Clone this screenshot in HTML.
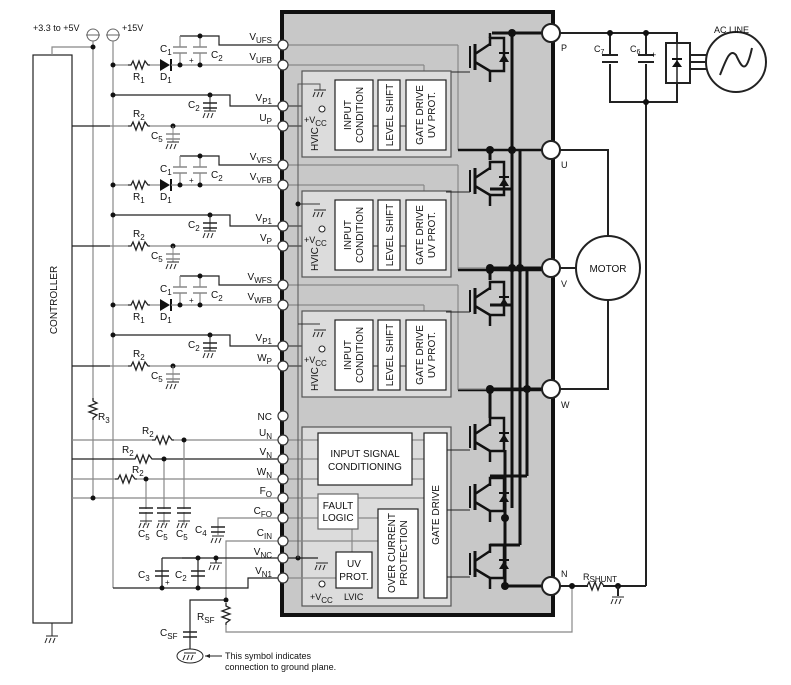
<!DOCTYPE html>
<html><head><meta charset="utf-8"><style>
html,body{margin:0;padding:0;background:#fff}
svg{display:block}
text{font-family:"Liberation Sans",Arial,sans-serif;fill:#111}
</style></head><body>
<svg width="791" height="685" viewBox="0 0 791 685" xmlns="http://www.w3.org/2000/svg">
<defs>
<g id="gnd" stroke="#222" stroke-width="1" fill="none">
<line x1="-6" y1="0" x2="6" y2="0"/><line x1="-5" y1="2" x2="-7" y2="7"/><line x1="-1" y1="2" x2="-3" y2="7"/><line x1="3" y1="2" x2="1" y2="7"/>
</g>
<g id="res" fill="none" stroke="#222" stroke-width="1.3">
<polyline points="0,0 3,0 5,-4 8,4 11,-4 14,4 17,-4 20,0 22,0"/>
</g>
<g id="igbt" stroke="#111" fill="none">
<line x1="-20" y1="8" x2="-20" y2="30" stroke-width="2"/>
<line x1="-15" y1="6" x2="-15" y2="32" stroke-width="3"/>
<line x1="-15" y1="16" x2="0" y2="6" stroke-width="2.5"/>
<line x1="-15" y1="24" x2="0" y2="33" stroke-width="2.5"/>
<polyline points="0,8 0,0 14,0 14,33 0,33 0,44" stroke-width="2.5"/>
<polygon points="9,24 19,24 14,16" fill="#111" stroke="none"/>
<line x1="9" y1="15" x2="19" y2="15" stroke-width="2"/>
</g>
<g id="hvic">
<rect x="0" y="0" width="149" height="86" fill="#dcdcdc" stroke="#555" stroke-width="1.2"/>
<rect x="33" y="9" width="38" height="70" fill="#fff" stroke="#222" stroke-width="1.2"/>
<rect x="76" y="9" width="22" height="70" fill="#fff" stroke="#222" stroke-width="1.2"/>
<rect x="104" y="9" width="40" height="70" fill="#fff" stroke="#222" stroke-width="1.2"/>
<line x1="71" y1="55" x2="76" y2="55" stroke="#333"/><line x1="98" y1="55" x2="104" y2="55" stroke="#333"/>
<text transform="translate(49,44) rotate(-90)" font-size="10" text-anchor="middle">INPUT</text>
<text transform="translate(61,44) rotate(-90)" font-size="10" text-anchor="middle">CONDITION</text>
<text transform="translate(91,44) rotate(-90)" font-size="10" text-anchor="middle">LEVEL SHIFT</text>
<text transform="translate(121,44) rotate(-90)" font-size="10" text-anchor="middle">GATE DRIVE</text>
<text transform="translate(133,44) rotate(-90)" font-size="10" text-anchor="middle">UV PROT.</text>
<text transform="translate(16,80) rotate(-90)" font-size="10">HVIC</text>
<text x="2" y="52" font-size="9">+V<tspan font-size="8" dy="3">CC</tspan></text>
<circle cx="20" cy="38" r="3" fill="#fff" stroke="#222"/>
</g>
<g id="phase">
<polyline points="180,36 180,36 219,36 219,45 283,45" fill="none" stroke="#222" stroke-width="1.2"/>
<line x1="180" y1="36" x2="180" y2="65" stroke="#888" stroke-width="1.2"/>
<line x1="200" y1="36" x2="200" y2="65" stroke="#888" stroke-width="1.2"/>
<rect x="174" y="47" width="13" height="6" fill="#fff"/><rect x="194" y="47" width="13" height="6" fill="#fff"/>
<line x1="173" y1="47" x2="187" y2="47" stroke="#888" stroke-width="1.5"/><line x1="173" y1="53" x2="187" y2="53" stroke="#888" stroke-width="1.5"/>
<line x1="193" y1="47" x2="207" y2="47" stroke="#888" stroke-width="1.5"/><line x1="193" y1="53" x2="207" y2="53" stroke="#888" stroke-width="1.5"/>
<circle cx="200" cy="36" r="2.5" fill="#111"/>
<line x1="113" y1="65" x2="128" y2="65" stroke="#888" stroke-width="1.2"/>
<use href="#res" x="128" y="65"/>
<line x1="150" y1="65" x2="160" y2="65" stroke="#888" stroke-width="1.2"/>
<polygon points="160,59 160,71 170,65" fill="#111"/><line x1="171" y1="59" x2="171" y2="71" stroke="#111" stroke-width="2"/>
<line x1="171" y1="65" x2="283" y2="65" stroke="#888" stroke-width="1.2"/>
<circle cx="180" cy="65" r="2.5" fill="#111"/><circle cx="200" cy="65" r="2.5" fill="#111"/><circle cx="113" cy="65" r="2.5" fill="#111"/>
<text x="189" y="63" font-size="8">+</text>
<text x="160" y="52" font-size="10">C<tspan font-size="8" dy="3">1</tspan></text>
<text x="211" y="58" font-size="10">C<tspan font-size="8" dy="3">2</tspan></text>
<text x="133" y="80" font-size="10">R<tspan font-size="8" dy="3">1</tspan></text>
<text x="160" y="80" font-size="10">D<tspan font-size="8" dy="3">1</tspan></text>
<polyline points="113,95 230,95 230,106 283,106" fill="none" stroke="#222" stroke-width="1.2"/>
<circle cx="113" cy="95" r="2.5" fill="#111"/><circle cx="210" cy="95" r="2.5" fill="#111"/>
<line x1="210" y1="95" x2="210" y2="111" stroke="#222"/>
<line x1="203" y1="103" x2="217" y2="103" stroke="#222" stroke-width="1.5"/><line x1="203" y1="108" x2="217" y2="108" stroke="#222" stroke-width="1.5"/>
<use href="#gnd" x="210" y="111"/>
<text x="188" y="108" font-size="10">C<tspan font-size="8" dy="3">2</tspan></text>
<line x1="72" y1="126" x2="110" y2="126" stroke="#222" stroke-width="1.2"/>
<line x1="110" y1="126" x2="128" y2="126" stroke="#888" stroke-width="1.2"/>
<use href="#res" x="128" y="126"/>
<line x1="150" y1="126" x2="283" y2="126" stroke="#888" stroke-width="1.2"/>
<circle cx="173" cy="126" r="2.5" fill="#111"/>
<line x1="173" y1="126" x2="173" y2="142" stroke="#888"/>
<line x1="166" y1="134" x2="180" y2="134" stroke="#888" stroke-width="1.5"/><line x1="166" y1="139" x2="180" y2="139" stroke="#888" stroke-width="1.5"/>
<use href="#gnd" x="173" y="142"/>
<text x="133" y="117" font-size="10">R<tspan font-size="8" dy="3">2</tspan></text>
<text x="151" y="139" font-size="10">C<tspan font-size="8" dy="3">5</tspan></text>
<line x1="288" y1="45" x2="458" y2="45" stroke="#888" stroke-width="1.2"/>
<line x1="458" y1="45" x2="458" y2="150" stroke="#888" stroke-width="1.2"/>
<line x1="288" y1="65" x2="424" y2="65" stroke="#888" stroke-width="1.2"/>
<line x1="424" y1="65" x2="424" y2="80" stroke="#888" stroke-width="1.2"/>
<polyline points="288,106 320,106 320,111" fill="none" stroke="#222"/>
<line x1="288" y1="126" x2="335" y2="126" stroke="#222"/>
<line x1="446" y1="72" x2="470" y2="72" stroke="#222"/>
<line x1="458" y1="150" x2="545" y2="150" stroke="#111" stroke-width="2.5"/>
<circle cx="490" cy="150" r="4" fill="#111"/>
</g>
</defs>

<rect x="282" y="12" width="271" height="603" fill="#c8c8c8" stroke="#111" stroke-width="4"/>

<rect x="33" y="55" width="39" height="568" fill="#fff" stroke="#222" stroke-width="1.2"/>
<text transform="translate(57,300) rotate(-90)" font-size="10" text-anchor="middle">CONTROLLER</text>
<line x1="52" y1="623" x2="52" y2="636" stroke="#222"/><use href="#gnd" x="52" y="636"/>
<polyline points="52,55 52,47 93,47" fill="none" stroke="#888" stroke-width="1.2"/>

<text x="33" y="31" font-size="9">+3.3 to +5V</text>
<text x="122" y="31" font-size="9">+15V</text>
<circle cx="93" cy="35" r="6" fill="#fff" stroke="#666"/><line x1="86" y1="35" x2="100" y2="35" stroke="#666"/>
<circle cx="113" cy="35" r="6" fill="#fff" stroke="#666"/><line x1="106" y1="35" x2="120" y2="35" stroke="#666"/>
<line x1="93" y1="41" x2="93" y2="400" stroke="#888" stroke-width="1.2"/>
<line x1="93" y1="420" x2="93" y2="498" stroke="#888" stroke-width="1.2"/>
<circle cx="93" cy="47" r="2.5" fill="#111"/>
<g transform="translate(93,398) rotate(90)"><use href="#res"/></g>
<text x="98" y="420" font-size="10">R<tspan font-size="8" dy="3">3</tspan></text>
<line x1="113" y1="41" x2="113" y2="588" stroke="#888" stroke-width="1.2"/>

<use href="#phase"/>
<use href="#phase" y="120"/>
<use href="#phase" y="240"/>

<use href="#hvic" x="302" y="71"/>
<use href="#hvic" x="302" y="191"/>
<use href="#hvic" x="302" y="311"/>
<g stroke="#555" fill="none">
<polyline points="298,424 298,84 320,84 320,90"/>
</g>
<use href="#gnd" x="320" y="90"/><use href="#gnd" x="320" y="210"/><use href="#gnd" x="320" y="330"/>
<line x1="298" y1="204" x2="320" y2="204" stroke="#333"/><circle cx="298" cy="204" r="2.5" fill="#111"/>
<line x1="298" y1="324" x2="320" y2="324" stroke="#333"/>

<g font-size="10" text-anchor="end">
<text x="272" y="40">V<tspan font-size="8" dy="3">UFS</tspan></text>
<text x="272" y="60">V<tspan font-size="8" dy="3">UFB</tspan></text>
<text x="272" y="101">V<tspan font-size="8" dy="3">P1</tspan></text>
<text x="272" y="121">U<tspan font-size="8" dy="3">P</tspan></text>
<text x="272" y="160">V<tspan font-size="8" dy="3">VFS</tspan></text>
<text x="272" y="180">V<tspan font-size="8" dy="3">VFB</tspan></text>
<text x="272" y="221">V<tspan font-size="8" dy="3">P1</tspan></text>
<text x="272" y="241">V<tspan font-size="8" dy="3">P</tspan></text>
<text x="272" y="280">V<tspan font-size="8" dy="3">WFS</tspan></text>
<text x="272" y="300">V<tspan font-size="8" dy="3">WFB</tspan></text>
<text x="272" y="341">V<tspan font-size="8" dy="3">P1</tspan></text>
<text x="272" y="361">W<tspan font-size="8" dy="3">P</tspan></text>
<text x="272" y="420">NC</text>
<text x="272" y="436">U<tspan font-size="8" dy="3">N</tspan></text>
<text x="272" y="455">V<tspan font-size="8" dy="3">N</tspan></text>
<text x="272" y="475">W<tspan font-size="8" dy="3">N</tspan></text>
<text x="272" y="494">F<tspan font-size="8" dy="3">O</tspan></text>
<text x="272" y="514">C<tspan font-size="8" dy="3">FO</tspan></text>
<text x="272" y="536">C<tspan font-size="8" dy="3">IN</tspan></text>
<text x="272" y="555">V<tspan font-size="8" dy="3">NC</tspan></text>
<text x="272" y="574">V<tspan font-size="8" dy="3">N1</tspan></text>
</g>

<g stroke-width="1.2" fill="none">
<line x1="72" y1="440" x2="152" y2="440" stroke="#888"/>
<line x1="174" y1="440" x2="283" y2="440" stroke="#888"/>
<line x1="72" y1="459" x2="132" y2="459" stroke="#222"/>
<line x1="154" y1="459" x2="283" y2="459" stroke="#222"/>
<line x1="72" y1="479" x2="115" y2="479" stroke="#888"/>
<line x1="137" y1="479" x2="283" y2="479" stroke="#888"/>
<line x1="72" y1="498" x2="283" y2="498" stroke="#888"/>
<line x1="184" y1="440" x2="184" y2="525" stroke="#888"/>
<line x1="164" y1="459" x2="164" y2="525" stroke="#888"/>
<line x1="146" y1="479" x2="146" y2="525" stroke="#888"/>
<polyline points="283,518 218,518 218,535" stroke="#888"/>
<polyline points="283,541 226,541 226,600" stroke="#888"/>
<line x1="182" y1="558" x2="283" y2="558" stroke="#222"/>
<polyline points="283,578 248,578 248,588 113,588" stroke="#222"/>
<polyline points="162,558 198,558" stroke="#222"/>
<line x1="162" y1="558" x2="162" y2="588" stroke="#222"/>
<line x1="198" y1="558" x2="198" y2="588" stroke="#222"/>
<line x1="216" y1="558" x2="216" y2="563" stroke="#222"/>
<polyline points="226,600 190,600 190,650" stroke="#222"/>
<polyline points="226,625 226,632 572,632 572,586" stroke="#888"/>
</g>
<use href="#res" x="152" y="440"/><use href="#res" x="132" y="459"/><use href="#res" x="115" y="479"/>
<circle cx="184" cy="440" r="2.5" fill="#111"/><circle cx="164" cy="459" r="2.5" fill="#111"/><circle cx="146" cy="479" r="2.5" fill="#111"/><circle cx="93" cy="498" r="2.5" fill="#111"/>
<g stroke="#222" stroke-width="1.5">
<line x1="139" y1="508" x2="153" y2="508"/><line x1="139" y1="513" x2="153" y2="513"/>
<line x1="157" y1="508" x2="171" y2="508"/><line x1="157" y1="513" x2="171" y2="513"/>
<line x1="177" y1="508" x2="191" y2="508"/><line x1="177" y1="513" x2="191" y2="513"/>
<line x1="211" y1="527" x2="225" y2="527"/><line x1="211" y1="532" x2="225" y2="532"/>
<line x1="155" y1="571" x2="169" y2="571"/><line x1="155" y1="576" x2="169" y2="576"/>
<line x1="191" y1="571" x2="205" y2="571"/><line x1="191" y1="576" x2="205" y2="576"/>
<line x1="183" y1="632" x2="197" y2="632"/><line x1="183" y1="637" x2="197" y2="637"/>
</g>
<rect x="139" y="509" width="52" height="3" fill="#fff"/>
<use href="#gnd" x="146" y="521"/><use href="#gnd" x="164" y="521"/><use href="#gnd" x="184" y="521"/><use href="#gnd" x="218" y="536"/><use href="#gnd" x="216" y="563"/>
<circle cx="198" cy="558" r="2.5" fill="#111"/><circle cx="216" cy="558" r="2.5" fill="#111"/><circle cx="162" cy="588" r="2.5" fill="#111"/><circle cx="198" cy="588" r="2.5" fill="#111"/><circle cx="226" cy="600" r="2.5" fill="#111"/>
<g transform="translate(226,603) rotate(90)"><use href="#res"/></g>
<text x="142" y="434" font-size="10">R<tspan font-size="8" dy="3">2</tspan></text>
<text x="122" y="453" font-size="10">R<tspan font-size="8" dy="3">2</tspan></text>
<text x="132" y="473" font-size="10">R<tspan font-size="8" dy="3">2</tspan></text>
<text x="138" y="537" font-size="10">C<tspan font-size="8" dy="3">5</tspan></text>
<text x="156" y="537" font-size="10">C<tspan font-size="8" dy="3">5</tspan></text>
<text x="176" y="537" font-size="10">C<tspan font-size="8" dy="3">5</tspan></text>
<text x="195" y="533" font-size="10">C<tspan font-size="8" dy="3">4</tspan></text>
<text x="138" y="578" font-size="10">C<tspan font-size="8" dy="3">3</tspan></text>
<text x="175" y="578" font-size="10">C<tspan font-size="8" dy="3">2</tspan></text>
<text x="165" y="585" font-size="8">+</text>
<text x="197" y="620" font-size="10">R<tspan font-size="8" dy="3">SF</tspan></text>
<text x="160" y="636" font-size="10">C<tspan font-size="8" dy="3">SF</tspan></text>
<ellipse cx="190" cy="656" rx="13" ry="7" fill="#fff" stroke="#222"/>
<use href="#gnd" x="190" y="653"/>
<line x1="205" y1="656" x2="222" y2="656" stroke="#222"/><polygon points="205,656 210,654 210,658" fill="#222"/>
<text x="225" y="659" font-size="9">This symbol indicates</text>
<text x="225" y="670" font-size="9">connection to ground plane.</text>

<rect x="302" y="427" width="149" height="179" fill="#dcdcdc" stroke="#555" stroke-width="1.2"/>
<g stroke="#888" stroke-width="1.2">
<line x1="288" y1="440" x2="318" y2="440"/><line x1="288" y1="459" x2="318" y2="459"/><line x1="288" y1="479" x2="318" y2="479"/>
<line x1="288" y1="498" x2="424" y2="498"/><line x1="288" y1="518" x2="378" y2="518"/><line x1="288" y1="541" x2="378" y2="541"/>
<line x1="412" y1="440" x2="424" y2="440"/><line x1="412" y1="459" x2="424" y2="459"/><line x1="412" y1="479" x2="424" y2="479"/>
<line x1="352" y1="529" x2="352" y2="552"/>
<line x1="288" y1="578" x2="336" y2="578"/>
</g>
<line x1="288" y1="558" x2="318" y2="558" stroke="#222" stroke-width="1.2"/><circle cx="298" cy="558" r="2.5" fill="#111"/>
<line x1="298" y1="424" x2="298" y2="558" stroke="#555"/>
<use href="#gnd" x="322" y="563"/>
<circle cx="322" cy="584" r="3" fill="#fff" stroke="#222"/>
<text x="310" y="600" font-size="9">+V<tspan font-size="8" dy="3">CC</tspan></text>
<text x="344" y="600" font-size="9">LVIC</text>
<rect x="318" y="433" width="94" height="52" fill="#fff" stroke="#222" stroke-width="1.2"/>
<text x="365" y="457" font-size="10" text-anchor="middle">INPUT SIGNAL</text>
<text x="365" y="470" font-size="10" text-anchor="middle">CONDITIONING</text>
<rect x="424" y="433" width="23" height="165" fill="#fff" stroke="#222" stroke-width="1.2"/>
<text transform="translate(439,515) rotate(-90)" font-size="10" text-anchor="middle">GATE DRIVE</text>
<rect x="318" y="494" width="40" height="35" fill="#fff" stroke="#666" stroke-width="1.2"/>
<text x="338" y="509" font-size="10" text-anchor="middle">FAULT</text>
<text x="338" y="521" font-size="10" text-anchor="middle">LOGIC</text>
<line x1="358" y1="518" x2="378" y2="518" stroke="#888"/>
<rect x="378" y="509" width="40" height="89" fill="#fff" stroke="#222" stroke-width="1.2"/>
<text transform="translate(395,553) rotate(-90)" font-size="10" text-anchor="middle">OVER CURRENT</text>
<text transform="translate(407,553) rotate(-90)" font-size="10" text-anchor="middle">PROTECTION</text>
<rect x="336" y="552" width="36" height="36" fill="#fff" stroke="#222" stroke-width="1.2"/>
<text x="354" y="567" font-size="10" text-anchor="middle">UV</text>
<text x="354" y="580" font-size="10" text-anchor="middle">PROT.</text>

<g stroke="#111" fill="none" stroke-width="3">
<line x1="512" y1="33" x2="512" y2="508"/>
<line x1="520" y1="150" x2="520" y2="545"/>
<line x1="527" y1="268" x2="527" y2="476"/>
<line x1="492" y1="33" x2="545" y2="33"/>
<line x1="490" y1="268" x2="545" y2="268"/>
<line x1="490" y1="389" x2="545" y2="389"/>
<line x1="505" y1="586" x2="545" y2="586"/>
<line x1="505" y1="450" x2="505" y2="586"/>
<polyline points="490,389 490,418"/>
<polyline points="490,476 527,476"/>
<polyline points="490,545 520,545"/>
<polyline points="490,150 490,160"/>
<polyline points="490,189 512,189"/>
<polyline points="490,268 490,280"/>
<polyline points="490,305 512,305"/>
</g>
<line x1="458" y1="268" x2="490" y2="268" stroke="#888" stroke-width="1.2"/>
<line x1="458" y1="389" x2="490" y2="389" stroke="#888" stroke-width="1.2"/>
<use href="#igbt" x="490" y="38"/>
<use href="#igbt" x="490" y="162"/>
<use href="#igbt" x="490" y="282"/>
<use href="#igbt" x="490" y="418"/>
<use href="#igbt" x="490" y="478"/>
<use href="#igbt" x="490" y="545"/>
<line x1="490" y1="33" x2="490" y2="38" stroke="#111" stroke-width="2.5"/>
<g stroke="#222" stroke-width="1">
<line x1="447" y1="450" x2="470" y2="450"/><line x1="447" y1="510" x2="470" y2="510"/><line x1="447" y1="577" x2="470" y2="577"/>
<line x1="446" y1="192" x2="470" y2="192"/><line x1="446" y1="312" x2="470" y2="312"/>
</g>
<circle cx="512" cy="33" r="4" fill="#111"/><circle cx="512" cy="150" r="4" fill="#111"/><circle cx="520" cy="268" r="4" fill="#111"/><circle cx="490" cy="268" r="4" fill="#111"/>
<circle cx="490" cy="389" r="4" fill="#111"/><circle cx="527" cy="389" r="4" fill="#111"/><circle cx="505" cy="518" r="4" fill="#111"/><circle cx="505" cy="586" r="4" fill="#111"/><circle cx="512" cy="268" r="4" fill="#111"/>

<g fill="#fff" stroke="#333" stroke-width="1.2">
<circle cx="283" cy="45" r="5"/><circle cx="283" cy="65" r="5"/><circle cx="283" cy="106" r="5"/><circle cx="283" cy="126" r="5"/>
<circle cx="283" cy="165" r="5"/><circle cx="283" cy="185" r="5"/><circle cx="283" cy="226" r="5"/><circle cx="283" cy="246" r="5"/>
<circle cx="283" cy="285" r="5"/><circle cx="283" cy="305" r="5"/><circle cx="283" cy="346" r="5"/><circle cx="283" cy="366" r="5"/>
<circle cx="283" cy="416" r="5"/><circle cx="283" cy="440" r="5"/><circle cx="283" cy="459" r="5"/><circle cx="283" cy="479" r="5"/>
<circle cx="283" cy="498" r="5"/><circle cx="283" cy="518" r="5"/><circle cx="283" cy="541" r="5"/><circle cx="283" cy="558" r="5"/><circle cx="283" cy="578" r="5"/>
</g>

<g stroke="#222" stroke-width="2" fill="none">
<polyline points="560,33 677,33 677,43"/>
<polyline points="677,82 677,102 610,102 610,33"/>
<line x1="646" y1="33" x2="646" y2="586"/>
<polyline points="560,150 608,150 608,236"/>
<line x1="560" y1="268" x2="576" y2="268"/>
<polyline points="608,300 608,389 560,389"/>
<line x1="560" y1="586" x2="588" y2="586"/>
<line x1="603" y1="586" x2="646" y2="586"/>
<line x1="690" y1="55" x2="706" y2="55"/><line x1="690" y1="62" x2="705" y2="62"/><line x1="690" y1="69" x2="706" y2="69"/>
</g>
<g stroke="#222" stroke-width="2">
<rect x="603" y="55" width="15" height="9" fill="#fff" stroke="none"/>
<rect x="639" y="55" width="15" height="9" fill="#fff" stroke="none"/>
<line x1="602" y1="55" x2="618" y2="55"/><line x1="602" y1="62" x2="618" y2="62"/>
<line x1="638" y1="55" x2="654" y2="55"/><line x1="638" y1="62" x2="654" y2="62"/>
</g>
<text x="594" y="52" font-size="9">C<tspan font-size="7" dy="2">7</tspan></text>
<text x="630" y="52" font-size="9">C<tspan font-size="7" dy="2">6</tspan></text>
<text x="651" y="58" font-size="9">+</text>
<circle cx="610" cy="33" r="3" fill="#111"/><circle cx="646" cy="33" r="3" fill="#111"/><circle cx="646" cy="102" r="3" fill="#111"/>
<rect x="666" y="43" width="24" height="40" fill="#fff" stroke="#222" stroke-width="2"/>
<line x1="677" y1="43" x2="677" y2="82" stroke="#222" stroke-width="1.5"/>
<polygon points="672,67 682,67 677,60" fill="#111"/><line x1="672" y1="59" x2="682" y2="59" stroke="#111" stroke-width="2"/>
<circle cx="736" cy="62" r="30" fill="#fff" stroke="#222" stroke-width="2"/>
<path d="M720,75 C726,60 730,48 736,55 C742,68 746,75 752,48" fill="none" stroke="#222" stroke-width="2"/>
<text x="714" y="33" font-size="9">AC LINE</text>
<ellipse cx="608" cy="268" rx="32" ry="32" fill="#fff" stroke="#222" stroke-width="2"/>
<text x="608" y="272" font-size="10" text-anchor="middle">MOTOR</text>
<use href="#res" x="584" y="586"/>
<circle cx="572" cy="586" r="3" fill="#111"/><circle cx="618" cy="586" r="3" fill="#111"/>
<line x1="618" y1="586" x2="618" y2="596" stroke="#222" stroke-width="2"/><use href="#gnd" x="618" y="597"/>
<text x="583" y="580" font-size="9">R<tspan font-size="8" dy="2">SHUNT</tspan></text>

<g fill="#fff" stroke="#222" stroke-width="2">
<circle cx="551" cy="33" r="9"/><circle cx="551" cy="150" r="9"/><circle cx="551" cy="268" r="9"/><circle cx="551" cy="389" r="9"/><circle cx="551" cy="586" r="9"/>
</g>
<g font-size="9">
<text x="561" y="51">P</text><text x="561" y="168">U</text><text x="561" y="287">V</text><text x="561" y="408">W</text><text x="561" y="577">N</text>
</g>
</svg>
</body></html>
